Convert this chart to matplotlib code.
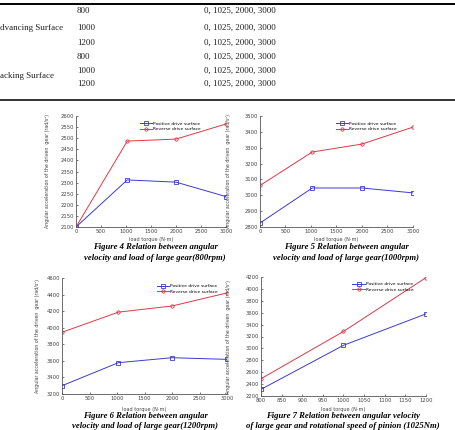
import matplotlib.pyplot as plt
from matplotlib.lines import Line2D

# table rows (top of the page)
table_speeds = ['800', '1000', '1200', '800', '1000', '1200']
table_loads = ['0, 1025, 2000, 3000'] * 6
table_groups = ['dvancing Surface', 'acking Surface']

# figure 4-6: load torque vs angular acceleration
loads = [0, 1025, 2000, 3000]
pos_800 = [2100, 2312, 2302, 2237]
rev_800 = [2100, 2487, 2496, 2564]
pos_1000 = [2825, 3046, 3046, 3015]
rev_1000 = [3062, 3273, 3323, 3430]
pos_1200 = [3300, 3578, 3638, 3618]
rev_1200 = [3945, 4188, 4262, 4420]

# figure 7: pinion speed
speeds = [800, 1000, 1200]
pos_1025 = [2312, 3052, 3580]
rev_1025 = [2490, 3285, 4190]

captions = [
    ('Figure 4 Relation between angular', 'velocity and load of large gear(800rpm)'),
    ('Figure 5 Relation between angular', 'velocity and load of large gear(1000rpm)'),
    ('Figure 6 Relation between angular', 'velocity and load of large gear(1200rpm)'),
    ('Figure 7 Relation between angular velocity',
     'of large gear and rotational speed of pinion (1025Nm)'),
]

W, H = 456, 430
fig = plt.figure(figsize=(W / 100, H / 100), dpi=100)
serif = ['Liberation Serif', 'DejaVu Serif']

def px(x, y):
    return x / W, 1 - y / H

# table
fig.add_artist(Line2D([0, 1], [1 - 4 / H, 1 - 4 / H], color='black', lw=1.4))
fig.add_artist(Line2D([0, 1], [1 - 100 / H, 1 - 100 / H], color='#333333', lw=1.4))
row_y = [11, 28, 43, 57, 71, 84]
for s, l, y in zip(table_speeds, table_loads, row_y):
    fig.text(*px(77, y), s, family=serif, fontsize=6.5, va='center', color='#222222')
    fig.text(*px(204, y), l, family=serif, fontsize=6.5, va='center', color='#222222')
fig.text(*px(0, 28), table_groups[0], family=serif, fontsize=6.5, va='center', color='#222222')
fig.text(*px(0, 76), table_groups[1], family=serif, fontsize=6.5, va='center', color='#222222')

blue = '#3b3bd0'
red = '#e03846'

def panel(rect, x, pos, rev, xlim, xticks, ylim, yticks, leg_xy, ylab_x, xlab_y):
    l, t, r, b = rect
    ax = fig.add_axes([l / W, 1 - b / H, (r - l) / W, (b - t) / H])
    ax.plot(x, pos, color=blue, lw=0.7, marker='s', ms=2.6, mfc='none', mew=0.6,
            label='Positive drive surface')
    ax.plot(x, rev, color=red, lw=0.7, marker='o', ms=2.4, mfc='none', mew=0.6,
            label='Reverse drive surface')
    ax.set_xlim(*xlim)
    ax.set_ylim(*ylim)
    ax.set_xticks(xticks)
    ax.set_yticks(yticks)
    for sp in ['top', 'right']:
        ax.spines[sp].set_visible(False)
    for sp in ['left', 'bottom']:
        ax.spines[sp].set_color('#555555')
        ax.spines[sp].set_linewidth(0.6)
    ax.tick_params(labelsize=3.8, length=1.5, width=0.5, pad=1.5, colors='#444444',
                   direction='in')
    ax.set_ylabel('Angular acceleration of the driven  gear (rad/s\u00b2)',
                  fontsize=3.4, color='#444444')
    ax.yaxis.set_label_coords((ylab_x - l) / (r - l), 0.5)
    ax.set_xlabel('load torque (N\u00b7m)', fontsize=3.6, color='#444444')
    ax.xaxis.set_label_coords(0.5, (b - xlab_y) / (b - t))
    ax.legend(loc='upper left', bbox_to_anchor=leg_xy, frameon=False, fontsize=3.2,
              handlelength=2.8, handletextpad=0.3, labelspacing=0.3, borderpad=0)
    return ax

panel((76, 116, 226, 227), loads, pos_800, rev_800, (0, 3000), range(0, 3001, 500),
      (2100, 2600), range(2100, 2601, 50), (0.41, 0.97), 50, 237)
panel((260, 116, 413, 227), loads, pos_1000, rev_1000, (0, 3000), range(0, 3001, 500),
      (2800, 3500), range(2800, 3501, 100), (0.48, 0.97), 231, 237)
panel((62, 278, 227, 394), loads, pos_1200, rev_1200, (0, 3000), range(0, 3001, 500),
      (3200, 4600), range(3200, 4601, 200), (0.56, 0.965), 40, 407)
panel((261, 277, 426, 396), speeds, pos_1025, rev_1025, (800, 1200), range(800, 1201, 50),
      (2200, 4200), range(2200, 4201, 200), (0.54, 0.975), 231, 407)

cap_pos = [(155, 247), (346, 247), (145, 416), (343, 416)]
for (c1, c2), (cx, cy) in zip(captions, cap_pos):
    fig.text(*px(cx, cy), c1, family=serif, fontsize=6.2, fontweight='bold',
             style='italic', ha='center', va='center')
    fig.text(*px(cx, cy + 10.5), c2, family=serif, fontsize=6.2, fontweight='bold',
             style='italic', ha='center', va='center')

fig.savefig('out.png', dpi=100)
